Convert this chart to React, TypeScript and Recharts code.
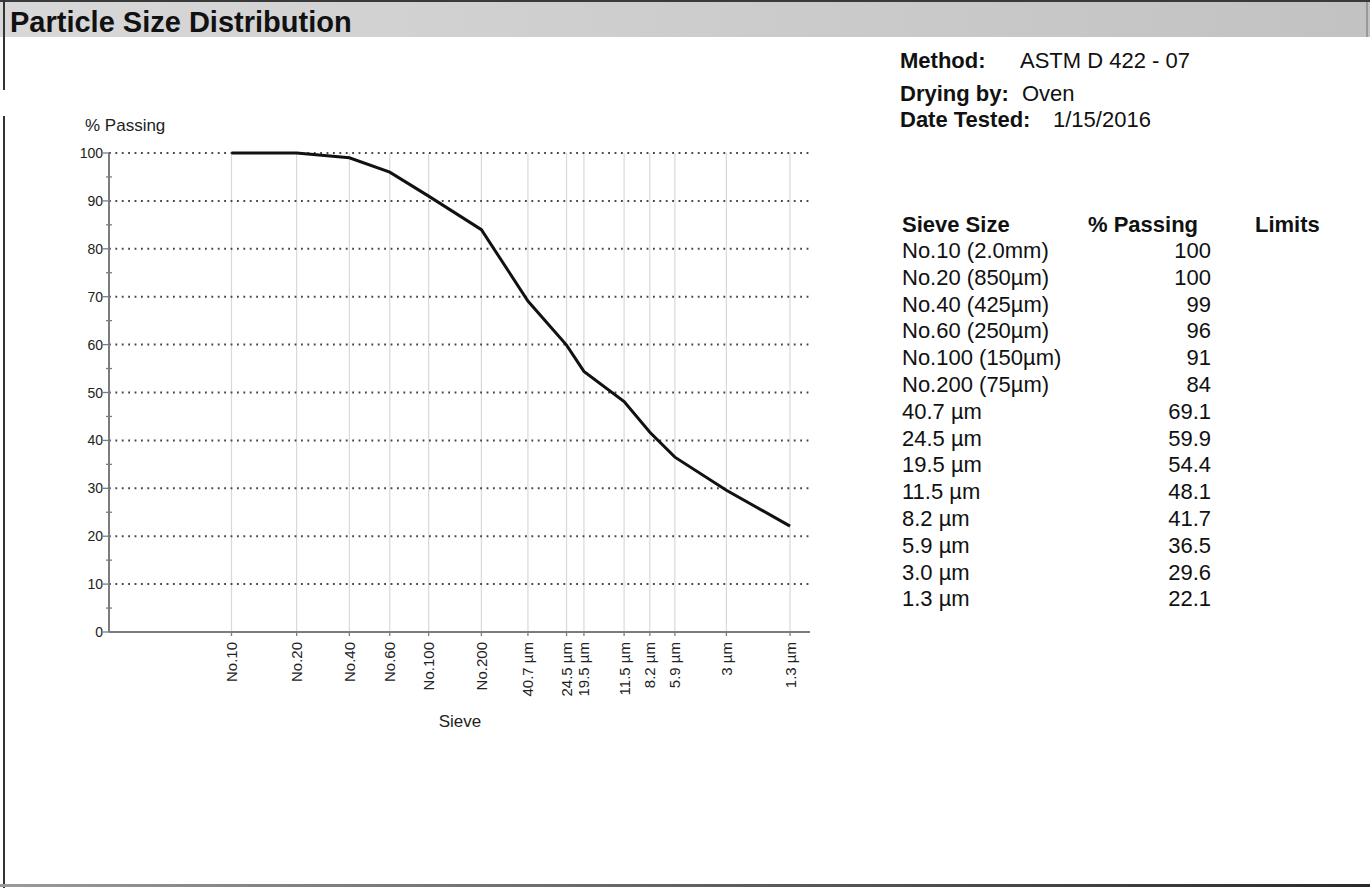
import { LineChart, Line, XAxis, YAxis, CartesianGrid } from "recharts"

// sieve / hydrometer sizes in micrometres, largest first
const sieveSizes = [2000, 850, 425, 250, 150, 75, 40.7, 24.5, 19.5, 11.5, 8.2, 5.9, 3.0, 1.3]
const percentPassing = [100, 100, 99, 96, 91, 84, 69.1, 59.9, 54.4, 48.1, 41.7, 36.5, 29.6, 22.1]
const axisLabels = [
  "No.10", "No.20", "No.40", "No.60", "No.100", "No.200",
  "40.7 µm", "24.5 µm", "19.5 µm", "11.5 µm", "8.2 µm", "5.9 µm", "3 µm", "1.3 µm",
]
const tableLabels = [
  "No.10 (2.0mm)", "No.20 (850µm)", "No.40 (425µm)", "No.60 (250µm)", "No.100 (150µm)", "No.200 (75µm)",
  "40.7 µm", "24.5 µm", "19.5 µm", "11.5 µm", "8.2 µm", "5.9 µm", "3.0 µm", "1.3 µm",
]
const yTicks = [0, 5, 10, 15, 20, 25, 30, 35, 40, 45, 50, 55, 60, 65, 70, 75, 80, 85, 90, 95, 100]
const gridValues = [10, 20, 30, 40, 50, 60, 70, 80, 90, 100]
const infoRows = [
  { label: "Method:", value: "ASTM D 422 - 07" },
  { label: "Drying by:", value: "Oven" },
  { label: "Date Tested:", value: "1/15/2016" },
]

const FONT = '"Liberation Sans", Arial, Helvetica, sans-serif'
const CHART_W = 860
const CHART_H = 760
const PLOT_LEFT = 109
const PLOT_TOP = 153
const PLOT_RIGHT = 810
const PLOT_BOTTOM = 632
const AXIS = "#7c7c7c"

const chartData = sieveSizes.map((size, i) => ({ size, passing: percentPassing[i] }))

const fmt = (v: number) => (Number.isInteger(v) ? String(v) : v.toFixed(1))

const renderXTick = (props: any) => {
  const { x, payload } = props
  const idx = sieveSizes.indexOf(payload.value)
  return (
    <text
      transform={`translate(${x},${PLOT_BOTTOM + 10}) rotate(-90)`}
      textAnchor="end"
      dominantBaseline="central"
      fontSize={15}
      fontFamily={FONT}
      fill="#222"
    >
      {axisLabels[idx]}
    </text>
  )
}

const renderYTick = (props: any) => {
  const { y, payload } = props
  const v = payload.value as number
  const major = v % 10 === 0
  return (
    <g>
      <line
        x1={major ? PLOT_LEFT - 6 : PLOT_LEFT - 3}
        x2={major ? PLOT_LEFT : PLOT_LEFT + 3}
        y1={y}
        y2={y}
        stroke={AXIS}
        strokeWidth={1.3}
      />
      {major && (
        <text
          x={PLOT_LEFT - 6}
          y={y}
          textAnchor="end"
          dominantBaseline="central"
          fontSize={14}
          fontFamily={FONT}
          fill="#222"
        >
          {v}
        </text>
      )}
    </g>
  )
}

export default function App() {
  const rowH = 26.8
  return (
    <div style={{ position: "absolute", left: 0, top: 0, width: 1370, height: 888, background: "#fff", overflow: "hidden" }}>
      <svg width={1370} height={888} style={{ position: "absolute", left: 0, top: 0 }} fontFamily={FONT}>
        <defs>
          <linearGradient id="band" x1="0" x2="1" y1="0" y2="0">
            <stop offset="0" stopColor="#d8d8d8" />
            <stop offset="1" stopColor="#c2c2c2" />
          </linearGradient>
          <linearGradient id="bottom" x1="0" x2="1" y1="0" y2="0">
            <stop offset="0" stopColor="#9a9a9a" />
            <stop offset="1" stopColor="#2a2a2a" />
          </linearGradient>
        </defs>
        {/* title band */}
        <rect x={0} y={0} width={1370} height={37} fill="url(#band)" />
        <rect x={0} y={0} width={1370} height={2} fill="#3a3a3a" />
        <rect x={1366} y={2} width={2} height={35} fill="#999" />
        {/* frame */}
        <rect x={3} y={0} width={2} height={90} fill="#333" />
        <rect x={3} y={116} width={2} height={772} fill="#333" />
        <rect x={0} y={884} width={1370} height={3} fill="url(#bottom)" />
        <text x={10} y={32} fontSize={29} fontWeight="bold" fill="#111">
          Particle Size Distribution
        </text>

        {/* test info */}
        {infoRows.map((r, i) => (
          <g key={r.label}>
            <text x={900} y={[68, 101, 127][i]} fontSize={22} fontWeight="bold" fill="#111">
              {r.label}
            </text>
            <text x={[1020, 1022, 1053][i]} y={[68, 101, 127][i]} fontSize={22} fill="#111">
              {r.value}
            </text>
          </g>
        ))}

        {/* results table */}
        <text x={902} y={232} fontSize={22} fontWeight="bold" fill="#111">Sieve Size</text>
        <text x={1088} y={232} fontSize={22} fontWeight="bold" fill="#111">% Passing</text>
        <text x={1255} y={232} fontSize={22} fontWeight="bold" fill="#111">Limits</text>
        {tableLabels.map((label, i) => (
          <g key={label}>
            <text x={902} y={258 + rowH * i} fontSize={22} fill="#111">
              {label}
            </text>
            <text x={1211} y={258 + rowH * i} fontSize={22} fill="#111" textAnchor="end">
              {fmt(percentPassing[i])}
            </text>
          </g>
        ))}

        {/* axis titles */}
        <text x={85} y={131} fontSize={17} fill="#222">% Passing</text>
        <text x={460} y={727} fontSize={17} fill="#222" textAnchor="middle">Sieve</text>
      </svg>

      <div style={{ position: "absolute", left: 0, top: 0 }}>
        <LineChart
          width={CHART_W}
          height={CHART_H}
          data={chartData}
          margin={{ top: PLOT_TOP, left: PLOT_LEFT - 1, right: CHART_W - PLOT_RIGHT, bottom: CHART_H - PLOT_BOTTOM - 1 }}
        >
          <CartesianGrid horizontal={false} verticalValues={sieveSizes} stroke="#d9d9d9" strokeWidth={1.2} />
          <CartesianGrid
            vertical={false}
            horizontalValues={gridValues}
            stroke="#444"
            strokeWidth={2}
            strokeDasharray="1.8 4.6"
          />
          <XAxis
            dataKey="size"
            type="number"
            scale="log"
            domain={[1, 10000]}
            allowDataOverflow
            reversed
            ticks={sieveSizes}
            interval={0}
            height={1}
            tickSize={4}
            tickLine={{ stroke: AXIS, strokeWidth: 1.3 }}
            axisLine={{ stroke: AXIS, strokeWidth: 2 }}
            tick={renderXTick}
          />
          <YAxis
            type="number"
            domain={[0, 100]}
            ticks={yTicks}
            interval={0}
            width={1}
            tickLine={false}
            axisLine={{ stroke: AXIS, strokeWidth: 2 }}
            tick={renderYTick}
          />
          <Line
            dataKey="passing"
            type="linear"
            stroke="#111"
            strokeWidth={3}
            dot={false}
            isAnimationActive={false}
          />
        </LineChart>
      </div>
    </div>
  )
}
